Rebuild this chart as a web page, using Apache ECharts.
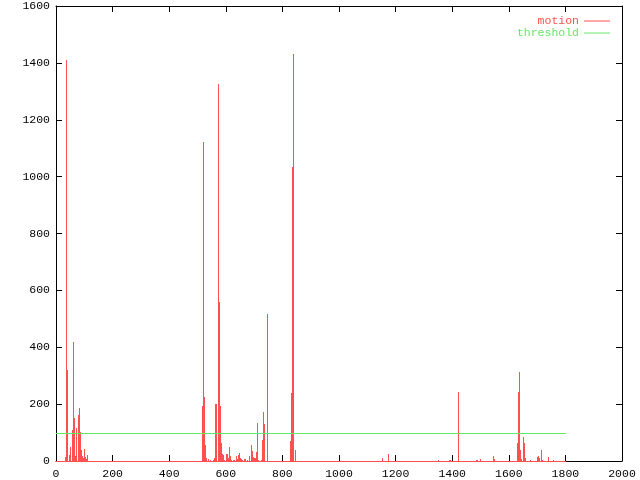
<!DOCTYPE html>
<html>
<head>
<meta charset="utf-8">
<script src="https://cdn.jsdelivr.net/npm/echarts@6/dist/echarts.min.js"></script>
<style>html,body{margin:0;padding:0;background:#fff}#c{width:640px;height:480px}</style>
</head>
<body>
<div id="c"></div>
<script>
// frame numbers (x) and motion values (y) of the non-zero impulses
const frames = [33,36,40,42,46,52,57,61,65,68,71,74,78,82,85,88,91,95,98,102,105,109,112,
  518,521,524,527,530,533,540,547,555,560,564,568,573,577,580,584,587,591,594,601,605,609,612,615,620,626,630,638,641,645,648,651,655,659,666,670,676,683,690,694,697,701,705,709,712,716,726,730,733,737,746,749,
  827,831,835,838,845,
  1153,1174,1350,1390,1393,1422,1485,1490,1500,1545,1548,1631,1634,1638,1641,1645,1652,1655,1659,1676,1701,1705,1709,1716,1719,1740,1758];
const motion = [14,1410,320,72,22,50,110,420,152,19,19,117,162,187,101,47,37,19,10,41,15,8,22,
  195,1121,226,55,10,12,6,5,5,9,200,200,1325,559,195,64,26,22,4,25,25,10,49,16,4,4,5,19,8,22,27,12,6,5,8,6,2,19,57,34,13,10,10,30,134,4,4,74,173,130,191,516,
  70,240,1034,1430,40,
  12,26,5,5,5,243,4,4,7,17,8,62,243,313,40,7,84,63,10,5,15,17,12,40,5,14,5];
const frameRange = [0, 1800];      // span of recorded frames (zero baseline)
const thresholdValue = 100;
const xTickLabels = [0,200,400,600,800,1000,1200,1400,1600,1800,2000];
const yTickLabels = [0,200,400,600,800,1000,1200,1400,1600];

const RED = '#ff5050', GREEN = '#66e666';
const FONT = 'Liberation Mono';

const chart = echarts.init(document.getElementById('c'), null, {renderer: 'canvas'});

function xAxisDef(pos, labels) {
  return {
    type: 'value', position: pos,
    min: xTickLabels[0], max: xTickLabels[xTickLabels.length - 1],
    interval: xTickLabels[1] - xTickLabels[0],
    axisLine: {show: true, onZero: false, lineStyle: {color: '#000', width: 1}},
    axisTick: {show: true, inside: true, length: 6, lineStyle: {color: '#000'}},
    axisLabel: {show: labels, margin: 7, color: '#000', fontFamily: FONT, fontSize: 11.5,
                formatter: v => String(v)},
    splitLine: {show: false}
  };
}
function yAxisDef(pos, labels) {
  return {
    type: 'value', position: pos,
    min: yTickLabels[0], max: yTickLabels[yTickLabels.length - 1],
    interval: yTickLabels[1] - yTickLabels[0],
    axisLine: {show: true, onZero: false, lineStyle: {color: '#000', width: 1}},
    axisTick: {show: true, inside: true, length: 6, lineStyle: {color: '#000'}},
    axisLabel: {show: labels, margin: 6, color: '#000', fontFamily: FONT, fontSize: 11.5,
                formatter: v => String(v)},
    splitLine: {show: false}
  };
}

// crisp 1px impulse from the baseline up to the value
function impulse(params, api) {
  const top = api.coord([api.value(0), api.value(1)]);
  const base = api.coord([api.value(0), 0]);
  const x = Math.floor(top[0]);
  const yt = Math.round(top[1]);
  const yb = Math.round(base[1]) + 1;
  return {type: 'rect', shape: {x: x, y: yt, width: 1, height: yb - yt},
          style: {fill: RED}};
}
// crisp 1px horizontal segment
function hline(color) {
  return function (params, api) {
    const a = api.coord([api.value(0), api.value(2)]);
    const b = api.coord([api.value(1), api.value(2)]);
    const y = Math.round(a[1]);
    return {type: 'rect', shape: {x: Math.round(a[0]), y: y, width: Math.round(b[0]) - Math.round(a[0]) + 1, height: 1},
            style: {fill: color}};
  };
}

chart.setOption({
  animation: false,
  backgroundColor: '#fff',
  grid: {left: 56, right: 18, top: 5, bottom: 18, containLabel: false},
  xAxis: [xAxisDef('bottom', true), xAxisDef('top', false)],
  yAxis: [yAxisDef('left', true), yAxisDef('right', false)],
  legend: {
    orient: 'vertical', right: 30, top: 15, align: 'right', padding: 0,
    itemWidth: 26, itemHeight: 1, itemGap: 0, icon: 'rect',
    textStyle: {fontFamily: FONT, fontSize: 11.5, lineHeight: 11},
    data: [
      {name: 'motion', textStyle: {color: RED}},
      {name: 'threshold', textStyle: {color: GREEN}}
    ]
  },
  series: [
    {
      name: 'motion', type: 'custom', xAxisIndex: 0, yAxisIndex: 0,
      renderItem: impulse, itemStyle: {color: RED},
      encode: {x: 0, y: 1},
      data: frames.map((f, i) => [f, motion[i]]), z: 2
    },
    {
      name: 'motion', type: 'custom', xAxisIndex: 0, yAxisIndex: 0,
      renderItem: hline(RED), itemStyle: {color: RED},
      encode: {x: [0, 1], y: 2},
      data: [[frameRange[0], frameRange[1], 0]], z: 3
    },
    {
      name: 'threshold', type: 'custom', xAxisIndex: 0, yAxisIndex: 0,
      renderItem: hline(GREEN), itemStyle: {color: GREEN},
      encode: {x: [0, 1], y: 2},
      data: [[frameRange[0], frameRange[1], thresholdValue]], z: 4
    }
  ]
});
</script>
</body>
</html>
